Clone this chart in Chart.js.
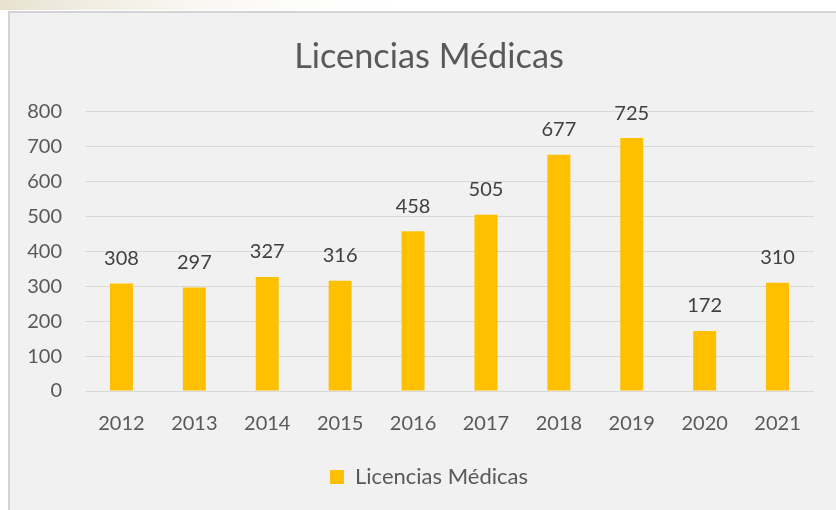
<!DOCTYPE html>
<html>
<head>
<meta charset="utf-8">
<script src="https://cdn.jsdelivr.net/npm/chart.js@4.4.0/dist/chart.umd.min.js"></script>
<style>
  html, body { margin: 0; padding: 0; background: #fff; }
  #myChart { display: block; }
</style>
</head>
<body>
<canvas id="myChart" width="836" height="510"></canvas>
<script>
// data
const years = ['2012', '2013', '2014', '2015', '2016', '2017', '2018', '2019', '2020', '2021'];
const licencias = [308, 297, 327, 316, 458, 505, 677, 725, 172, 310];
const seriesName = 'Licencias Médicas';
const chartTitle = 'Licencias Médicas';
const yMin = 0, yMax = 800, yStep = 100;

const FONT = 'Lato';
const TXT = '#595959';

// gray frame like the pasted office chart
const framePlugin = {
  id: 'frame',
  beforeDraw(chart) {
    const c = chart.ctx;
    c.save();
    c.fillStyle = '#ffffff';
    c.fillRect(0, 0, chart.width, chart.height);
    const g = c.createLinearGradient(0, 0, 420, 0);
    g.addColorStop(0, 'rgba(226,218,196,0.8)');
    g.addColorStop(1, 'rgba(255,255,255,0)');
    c.fillStyle = g;
    c.fillRect(0, 0, 420, 10);
    c.fillStyle = '#f1f1f1';
    c.fillRect(9, 12, chart.width - 9, chart.height - 12);
    c.strokeStyle = '#d4d4d4';
    c.lineWidth = 2;
    c.beginPath();
    c.moveTo(9, chart.height);
    c.lineTo(9, 12);
    c.lineTo(chart.width, 12);
    c.stroke();
    c.restore();
  }
};

// value above every bar
const valueLabels = {
  id: 'valueLabels',
  afterDatasetsDraw(chart) {
    const c = chart.ctx;
    c.save();
    c.font = '20px ' + FONT;
    c.fillStyle = '#404040';
    c.textAlign = 'center';
    c.textBaseline = 'middle';
    chart.getDatasetMeta(0).data.forEach((bar, i) => {
      c.fillText(String(chart.data.datasets[0].data[i]), bar.x, bar.y - 25);
    });
    c.restore();
  }
};

var ctx = document.getElementById('myChart').getContext('2d');
var myChart = new Chart(ctx, {
  type: 'bar',
  data: {
    labels: years,
    datasets: [{
      label: seriesName,
      data: licencias,
      backgroundColor: '#FFC000',
      borderWidth: 0,
      barPercentage: 1,
      categoryPercentage: 0.315,
    }],
  },
  options: {
    responsive: false,
    animation: false,
    layout: { padding: { left: 44, right: 22, top: 0, bottom: 12 } },
    plugins: {
      title: {
        display: true,
        text: chartTitle,
        color: TXT,
        font: { family: FONT, size: 34.3, weight: 'normal' },
        padding: { top: 36.4, bottom: 34.4 },
      },
      legend: {
        position: 'bottom',
        labels: {
          color: TXT,
          font: { family: FONT, size: 22 },
          boxWidth: 14,
          boxHeight: 14,
          padding: 14,
        },
      },
      tooltip: { enabled: false },
    },
    scales: {
      x: {
        grid: { display: false, drawTicks: false },
        border: { display: false },
        ticks: { color: TXT, font: { family: FONT, size: 20 }, padding: 21 },
        afterFit(s) { s.height = 61; },
      },
      y: {
        min: yMin,
        max: yMax,
        ticks: { stepSize: yStep, color: TXT, font: { family: FONT, size: 20 }, padding: 23 },
        grid: { color: '#d9d9d9', lineWidth: 1, drawTicks: false },
        border: { display: false },
        afterFit(s) {
          s.width = 41;
          s._computeLabelArea = function () { return undefined; }; // labels reach past the padding
        },
      },
    },
  },
  plugins: [framePlugin, valueLabels],
});
</script>
</body>
</html>
